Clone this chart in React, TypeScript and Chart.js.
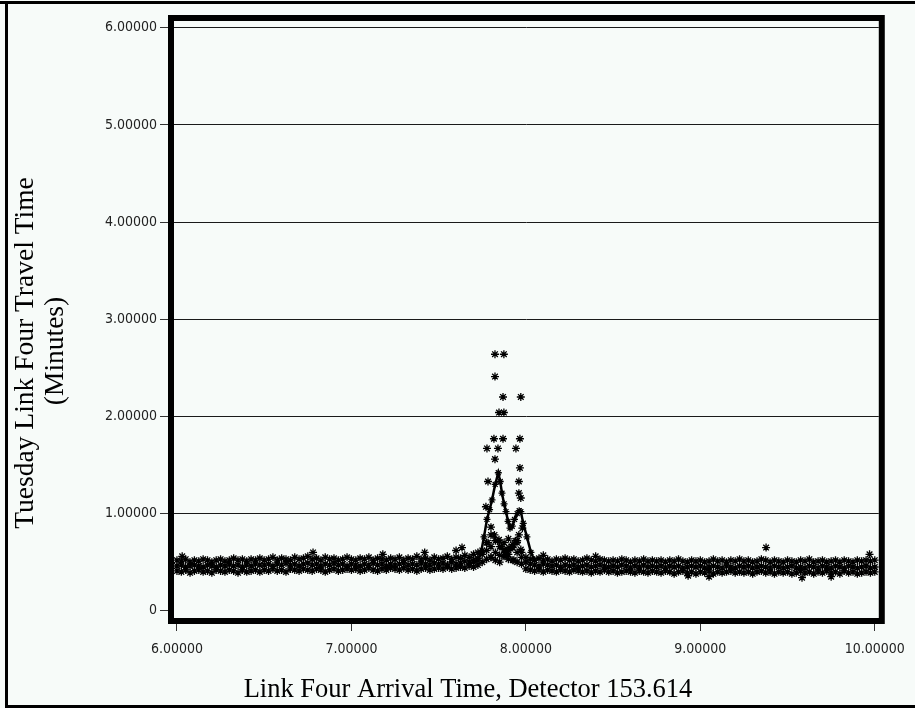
import React, { useEffect, useRef } from "react";
import { Chart, registerables } from "chart.js";
Chart.register(...registerables);

// Arrival time (hours) for the band of observations
const TIMES = [
  6.0, 6.025, 6.05, 6.075, 6.1, 6.125, 6.15, 6.175, 6.2, 6.225,
  6.25, 6.275, 6.3, 6.325, 6.35, 6.375, 6.4, 6.425, 6.45, 6.475,
  6.5, 6.525, 6.55, 6.575, 6.6, 6.625, 6.65, 6.675, 6.7, 6.725,
  6.75, 6.775, 6.8, 6.825, 6.85, 6.875, 6.9, 6.925, 6.95, 6.975,
  7.0, 7.025, 7.05, 7.075, 7.1, 7.125, 7.15, 7.175, 7.2, 7.225,
  7.25, 7.275, 7.3, 7.325, 7.35, 7.375, 7.4, 7.425, 7.45, 7.475,
  7.5, 7.525, 7.55, 7.575, 7.6, 7.625, 7.65, 7.675, 7.7, 7.725,
  7.75, 7.775, 7.8, 7.825, 7.85, 7.875, 7.9, 7.925, 7.95, 7.975,
  8.0, 8.025, 8.05, 8.075, 8.1, 8.125, 8.15, 8.175, 8.2, 8.225,
  8.25, 8.275, 8.3, 8.325, 8.35, 8.375, 8.4, 8.425, 8.45, 8.475,
  8.5, 8.525, 8.55, 8.575, 8.6, 8.625, 8.65, 8.675, 8.7, 8.725,
  8.75, 8.775, 8.8, 8.825, 8.85, 8.875, 8.9, 8.925, 8.95, 8.975,
  9.0, 9.025, 9.05, 9.075, 9.1, 9.125, 9.15, 9.175, 9.2, 9.225,
  9.25, 9.275, 9.3, 9.325, 9.35, 9.375, 9.4, 9.425, 9.45, 9.475,
  9.5, 9.525, 9.55, 9.575, 9.6, 9.625, 9.65, 9.675, 9.7, 9.725,
  9.75, 9.775, 9.8, 9.825, 9.85, 9.875, 9.9, 9.925, 9.95, 9.975,
  10.0,
];

// Travel time (minutes) – upper edge of the band
const UPPER = [
  0.52, 0.51, 0.53, 0.5, 0.52, 0.51, 0.53, 0.52, 0.5, 0.52,
  0.53, 0.51, 0.52, 0.54, 0.52, 0.53, 0.51, 0.53, 0.52, 0.54,
  0.52, 0.53, 0.55, 0.52, 0.54, 0.53, 0.52, 0.55, 0.53, 0.54,
  0.56, 0.53, 0.54, 0.52, 0.55, 0.53, 0.54, 0.52, 0.53, 0.55,
  0.53, 0.52, 0.54, 0.53, 0.55, 0.52, 0.54, 0.53, 0.52, 0.54,
  0.53, 0.55, 0.52, 0.54, 0.53, 0.56, 0.53, 0.54, 0.52, 0.55,
  0.53, 0.54, 0.56, 0.53, 0.55, 0.54, 0.57, 0.55, 0.58, 0.6,
  0.62, 0.7, 0.78, 0.72, 0.66, 0.7, 0.74, 0.68, 0.72, 0.6,
  0.55, 0.53, 0.52, 0.54, 0.52, 0.53, 0.51, 0.53, 0.52, 0.54,
  0.52, 0.53, 0.51, 0.52, 0.54, 0.52, 0.51, 0.53, 0.52, 0.51,
  0.52, 0.51, 0.53, 0.52, 0.5, 0.52, 0.51, 0.53, 0.51, 0.52,
  0.51, 0.52, 0.5, 0.52, 0.51, 0.53, 0.51, 0.5, 0.52, 0.51,
  0.52, 0.5, 0.51, 0.53, 0.51, 0.52, 0.5, 0.52, 0.51, 0.53,
  0.51, 0.52, 0.5, 0.51, 0.53, 0.52, 0.5, 0.52, 0.51, 0.5,
  0.52, 0.51, 0.5, 0.52, 0.51, 0.53, 0.5, 0.51, 0.52, 0.5,
  0.51, 0.52, 0.5, 0.52, 0.51, 0.5, 0.52, 0.51, 0.52, 0.51,
  0.52,
];

// Travel time (minutes) – middle of the band
const MIDDLE = [
  0.46, 0.47, 0.45, 0.46, 0.47, 0.46, 0.45, 0.47, 0.46, 0.45,
  0.47, 0.46, 0.48, 0.46, 0.47, 0.45, 0.47, 0.46, 0.48, 0.47,
  0.47, 0.48, 0.46, 0.48, 0.47, 0.49, 0.47, 0.48, 0.46, 0.48,
  0.49, 0.47, 0.48, 0.46, 0.48, 0.47, 0.49, 0.47, 0.48, 0.46,
  0.48, 0.47, 0.46, 0.48, 0.47, 0.49, 0.47, 0.48, 0.46, 0.48,
  0.47, 0.48, 0.49, 0.47, 0.48, 0.47, 0.49, 0.48, 0.47, 0.49,
  0.48, 0.49, 0.47, 0.5, 0.48, 0.49, 0.51, 0.5, 0.52, 0.54,
  0.58, 0.62, 0.55, 0.6, 0.57, 0.63, 0.58, 0.65, 0.6, 0.55,
  0.5, 0.48, 0.47, 0.46, 0.48, 0.47, 0.46, 0.47, 0.45, 0.47,
  0.46, 0.47, 0.45, 0.46, 0.47, 0.45, 0.46, 0.47, 0.46, 0.45,
  0.46, 0.45, 0.47, 0.46, 0.44, 0.46, 0.45, 0.47, 0.45, 0.46,
  0.45, 0.46, 0.44, 0.46, 0.45, 0.46, 0.44, 0.45, 0.46, 0.45,
  0.46, 0.44, 0.45, 0.46, 0.45, 0.44, 0.46, 0.45, 0.44, 0.46,
  0.45, 0.46, 0.44, 0.45, 0.46, 0.45, 0.44, 0.46, 0.45, 0.44,
  0.45, 0.46, 0.44, 0.45, 0.44, 0.46, 0.45, 0.44, 0.46, 0.45,
  0.44, 0.46, 0.45, 0.44, 0.46, 0.45, 0.44, 0.45, 0.46, 0.44,
  0.45,
];

// Travel time (minutes) – lower edge of the band
const LOWER = [
  0.41, 0.4, 0.42, 0.39, 0.41, 0.42, 0.4, 0.41, 0.39, 0.42,
  0.41, 0.4, 0.42, 0.41, 0.39, 0.42, 0.4, 0.41, 0.42, 0.4,
  0.42, 0.41, 0.43, 0.41, 0.42, 0.4, 0.43, 0.42, 0.41, 0.43,
  0.42, 0.41, 0.43, 0.42, 0.4, 0.42, 0.43, 0.41, 0.42, 0.43,
  0.42, 0.43, 0.41, 0.42, 0.44, 0.42, 0.41, 0.43, 0.42, 0.44,
  0.43, 0.42, 0.44, 0.42, 0.43, 0.41, 0.43, 0.44, 0.42, 0.43,
  0.44, 0.43, 0.45, 0.43, 0.44, 0.45, 0.44, 0.46, 0.45, 0.47,
  0.5, 0.53, 0.55, 0.52, 0.5, 0.56, 0.53, 0.52, 0.5, 0.48,
  0.43, 0.42, 0.41, 0.42, 0.4, 0.42, 0.41, 0.4, 0.42, 0.41,
  0.4, 0.42, 0.41, 0.4, 0.41, 0.39, 0.41, 0.4, 0.42, 0.4,
  0.41, 0.39, 0.4, 0.41, 0.4, 0.39, 0.41, 0.4, 0.39, 0.41,
  0.4, 0.39, 0.41, 0.4, 0.38, 0.4, 0.41, 0.39, 0.4, 0.38,
  0.4, 0.39, 0.41, 0.38, 0.4, 0.39, 0.4, 0.41, 0.39, 0.4,
  0.39, 0.4, 0.38, 0.4, 0.41, 0.39, 0.4, 0.38, 0.4, 0.39,
  0.4, 0.38, 0.39, 0.41, 0.39, 0.4, 0.38, 0.4, 0.39, 0.41,
  0.39, 0.4, 0.38, 0.41, 0.39, 0.4, 0.38, 0.39, 0.4, 0.39,
  0.4,
];

// Congestion peak (dense trace)
const PEAK_T = [7.7, 7.725, 7.743, 7.76, 7.777, 7.792, 7.806, 7.824, 7.842, 7.853, 7.863, 7.875, 7.886, 7.898, 7.909, 7.922, 7.935, 7.95, 7.962, 7.971, 7.985, 8.006, 8.029, 8.05];
const PEAK_V = [0.5, 0.52, 0.6, 0.76, 0.94, 1.04, 1.14, 1.3, 1.42, 1.33, 1.21, 1.1, 1.02, 0.92, 0.85, 0.87, 0.94, 1.0, 1.03, 1.02, 0.9, 0.76, 0.6, 0.52];

// Isolated observations
const SCATTER_T = [
  7.823, 7.874, 7.823, 7.869, 7.971, 7.846, 7.874, 7.817, 7.869, 7.966,
  7.777, 7.84, 7.943, 7.823, 7.966, 7.783, 7.96, 7.96, 7.971, 7.771,
  7.8, 7.82, 7.84, 7.86, 7.88, 7.9, 7.92, 7.94, 7.96, 7.98,
  7.783, 7.8, 7.846, 7.903, 7.949, 7.971, 7.886, 7.931,
  7.634, 6.78, 7.18, 7.42, 7.6, 9.377, 9.583, 9.97, 6.03, 8.1,
  8.4, 9.05, 9.75, 8.93,
];
const SCATTER_V = [
  2.64, 2.64, 2.41, 2.2, 2.2, 2.04, 2.04, 1.77, 1.77, 1.77,
  1.67, 1.67, 1.67, 1.56, 1.47, 1.33, 1.33, 1.21, 1.16, 1.07,
  0.86, 0.78, 0.72, 0.66, 0.6, 0.62, 0.66, 0.72, 0.78, 0.85,
  0.7, 0.66, 0.73, 0.65, 0.7, 0.63, 0.56, 0.52,
  0.65, 0.6, 0.58, 0.6, 0.62, 0.65, 0.34, 0.58, 0.56, 0.57,
  0.56, 0.35, 0.35, 0.36,
];

const X_TICKS = [6, 7, 8, 9, 10];
const Y_TICKS = [0, 1, 2, 3, 4, 5, 6];
const X_TITLE = "Link Four Arrival Time, Detector 153.614";
const Y_TITLE = ["Tuesday Link Four Travel Time", "(Minutes)"];

const BG = "#f7fbf9";
const TICK_FONT = { family: "'DejaVu Sans Condensed', 'Liberation Sans Narrow', 'DejaVu Sans', sans-serif", size: 14 };
const X_TITLE_FONT = "26.5px 'Liberation Serif', 'Times New Roman', serif";
const Y_TITLE_FONT = "27.5px 'Liberation Serif', 'Times New Roman', serif";

export default function App() {
  const ref = useRef<HTMLCanvasElement>(null);

  useEffect(() => {
    const canvas = ref.current;
    if (!canvas) return;

    const rowPoints = (ys: number[]) => TIMES.map((t, i) => ({ x: t, y: ys[i] }));
    const pairPoints = (xs: number[], ys: number[]) => xs.map((t, i) => ({ x: t, y: ys[i] }));

    const starStyle = {
      pointStyle: "star",
      pointRadius: 4,
      pointBorderWidth: 1.3,
      pointBorderColor: "#000",
      pointBackgroundColor: "#000",
      showLine: false,
    };

    const framePlugin = {
      id: "frame",
      beforeDraw(chart: any) {
        const { ctx, width, height } = chart;
        ctx.save();
        ctx.fillStyle = BG;
        ctx.fillRect(0, 0, width, height);
        ctx.restore();
      },
      afterDraw(chart: any) {
        const { ctx, chartArea } = chart;
        const { left, top, right, bottom } = chartArea;
        ctx.save();
        // thick plot border
        ctx.strokeStyle = "#000";
        ctx.lineWidth = 6;
        ctx.strokeRect(left - 3, top - 3, right - left + 6, bottom - top + 6);
        // outer frame
        ctx.fillStyle = "#000";
        ctx.fillRect(0, 1, 915, 3);
        ctx.fillRect(5, 1, 3, 707);
        ctx.fillRect(5, 705, 915, 3);
        // titles
        ctx.fillStyle = "#000";
        ctx.textAlign = "center";
        ctx.textBaseline = "alphabetic";
        ctx.font = X_TITLE_FONT;
        ctx.fillText(X_TITLE, 468, 697);
        ctx.font = Y_TITLE_FONT;
        ctx.save();
        ctx.translate(33, 353);
        ctx.rotate(-Math.PI / 2);
        ctx.fillText(Y_TITLE[0], 0, 0);
        ctx.restore();
        ctx.save();
        ctx.translate(63, 351);
        ctx.rotate(-Math.PI / 2);
        ctx.fillText(Y_TITLE[1], 0, 0);
        ctx.restore();
        ctx.restore();
      },
    };

    const chart = new Chart(canvas, {
      type: "scatter",
      data: {
        datasets: [
          { data: rowPoints(UPPER), ...starStyle },
          { data: rowPoints(MIDDLE), ...starStyle },
          { data: rowPoints(LOWER), ...starStyle },
          { data: pairPoints(SCATTER_T, SCATTER_V), ...starStyle },
          {
            data: pairPoints(PEAK_T, PEAK_V),
            ...starStyle,
            pointRadius: 3.5,
            showLine: true,
            borderColor: "#000",
            borderWidth: 2.5,
            tension: 0,
          },
        ],
      } as any,
      options: {
        animation: false,
        responsive: false,
        layout: { padding: { left: 0, top: 21, right: 34, bottom: 0 } },
        plugins: { legend: { display: false }, tooltip: { enabled: false }, title: { display: false } },
        scales: {
          x: {
            type: "linear",
            min: 5.983,
            max: 10.023,
            afterFit(scale: any) {
              scale.height = 90;
            },
            afterBuildTicks(scale: any) {
              scale.ticks = X_TICKS.map((v) => ({ value: v }));
            },
            grid: { drawOnChartArea: false, drawTicks: true, tickLength: 13, tickColor: "#333", tickWidth: 1 },
            border: { display: false },
            ticks: {
              padding: 10,
              font: TICK_FONT,
              color: "#222",
              maxRotation: 0,
              autoSkip: false,
              callback: (v: any) => Number(v).toFixed(5),
            },
          },
          y: {
            type: "linear",
            min: -0.075,
            max: 6.07,
            afterFit(scale: any) {
              scale.width = 174;
            },
            afterBuildTicks(scale: any) {
              scale.ticks = Y_TICKS.map((v) => ({ value: v }));
            },
            grid: {
              drawOnChartArea: true,
              drawTicks: true,
              tickLength: 14,
              tickColor: "#333",
              tickWidth: 1,
              lineWidth: 1,
              color: (ctx: any) => (ctx.tick && ctx.tick.value === 0 ? "rgba(0,0,0,0)" : "#1a1a1a"),
            },
            border: { display: false },
            ticks: {
              padding: 3,
              font: TICK_FONT,
              color: "#222",
              autoSkip: false,
              callback: (v: any) => (Number(v) === 0 ? "0" : Number(v).toFixed(5)),
            },
          },
        },
      } as any,
      plugins: [framePlugin],
    });

    return () => chart.destroy();
  }, []);

  return (
    <div style={{ position: "fixed", left: 0, top: 0, width: 915, height: 708, background: BG }}>
      <canvas ref={ref} width={915} height={708} style={{ width: 915, height: 708, display: "block" }} />
    </div>
  );
}
